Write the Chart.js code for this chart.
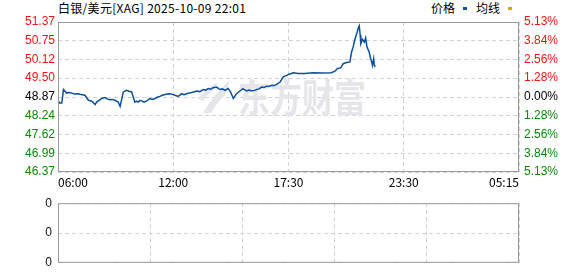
<!DOCTYPE html>
<html>
<head>
<meta charset="utf-8">
<script src="https://cdn.jsdelivr.net/npm/chart.js@4/dist/chart.umd.min.js"></script>
<style>
  body { margin: 0; background: #fff; width: 578px; height: 276px; overflow: hidden; position: relative;
         font-family: "Noto Sans CJK SC", "Liberation Sans", sans-serif; }
  #title { position: absolute; left: 58px; top: 0px; font-size: 12px; line-height: 16px; color: #000; white-space: nowrap; letter-spacing: 0.3px; }
  #legend { position: absolute; left: 431px; top: 0px; font-size: 12px; line-height: 16px; color: #000; white-space: nowrap; }
  #legend i { display: inline-block; width: 4px; height: 3px; margin: 0 9px 2px 8px; vertical-align: middle; }
  #priceCanvas { position: absolute; left: 0; top: 0; }
  #volCanvas { position: absolute; left: 0; top: 190px; }
</style>
</head>
<body>
<div id="title">白银/美元[XAG] 2025-10-09 22:01</div>
<div id="legend">价格<i style="background:#0c4f9e"></i>均线<i style="background:#e0a020"></i></div>
<canvas id="priceCanvas" width="578" height="192"></canvas>
<canvas id="volCanvas" width="578" height="86"></canvas>
<script>
// tick labels
const timeTicks = ["06:00", "12:00", "17:30", "23:30", "05:15"];
const priceTicks = [51.37, 50.75, 50.12, 49.50, 48.87, 48.24, 47.62, 46.99, 46.37];
const pctTicks = ["5.13%", "3.84%", "2.56%", "1.28%", "0.00%", "1.28%", "2.56%", "3.84%", "5.13%"];
const volTicks = ["0", "0", "0", "0", "0"];
const prevClose = 48.87;

// intraday price
const times = [
    "06:00", "06:05", "06:12", "06:17", "06:27", "06:35", "06:43", "06:52", "07:03", "07:12",
    "07:24", "07:35", "07:45", "07:56", "08:01", "08:11", "08:19", "08:27", "08:35", "08:42",
    "08:50", "08:58", "09:08", "09:14", "09:24", "09:34", "09:42", "09:50", "10:00", "10:05",
    "10:11", "10:16", "10:21", "10:29", "10:37", "10:47", "10:55", "11:03", "11:10", "11:18",
    "11:26", "11:34", "11:42", "11:49", "12:00", "12:05", "12:14", "12:24", "12:31", "12:38",
    "12:46", "12:53", "13:07", "13:16", "13:26", "13:33", "13:40", "13:47", "13:54", "14:04",
    "14:09", "14:14", "14:21", "14:28", "14:37", "14:44", "14:52", "15:01", "15:11", "15:19",
    "15:30", "15:37", "15:44", "15:52", "15:59", "16:06", "16:13", "16:20", "16:27", "16:34",
    "16:42", "16:49", "16:56", "17:06", "17:15", "17:25", "17:32", "17:45", "18:00", "18:21",
    "18:47", "19:13", "19:44", "19:55", "20:03", "20:13", "20:21", "20:31", "20:42", "20:47",
    "20:52", "20:58", "21:03", "21:08", "21:11", "21:14", "21:16", "21:21", "21:27", "21:31",
    "21:35", "21:42", "21:46", "21:50", "21:52", "21:56", "21:58", "22:01"
];
const prices = [
    48.76, 48.67, 48.67, 49.12, 49.00, 49.02, 49.00, 48.97, 48.98, 48.95,
    48.93, 48.76, 48.74, 48.62, 48.70, 48.78, 48.83, 48.85, 48.80, 48.78,
    48.79, 48.76, 48.70, 48.56, 49.04, 49.09, 49.06, 49.04, 48.70, 48.73,
    48.70, 48.76, 48.74, 48.70, 48.74, 48.82, 48.79, 48.82, 48.86, 48.89,
    48.93, 48.95, 48.97, 48.98, 48.95, 48.93, 48.89, 48.98, 48.95, 48.98,
    49.00, 49.02, 49.07, 49.05, 49.12, 49.10, 49.15, 49.13, 49.18, 49.20,
    49.16, 49.12, 49.14, 49.09, 49.15, 49.04, 48.82, 48.98, 49.07, 49.15,
    49.07, 49.10, 49.07, 49.09, 49.12, 49.14, 49.20, 49.19, 49.23, 49.22,
    49.26, 49.25, 49.29, 49.37, 49.54, 49.59, 49.63, 49.68, 49.65, 49.65,
    49.68, 49.67, 49.68, 49.73, 49.82, 49.84, 49.98, 50.02, 50.04, 50.37,
    50.54, 50.82, 50.98, 51.17, 51.24, 50.93, 50.65, 50.79, 50.70, 50.84,
    50.54, 50.37, 50.17, 50.04, 49.93, 50.15, 49.93, 49.87
];
const volumeValues = [];

// time -> axis position (each labelled tick is one unit apart)
const toMin = s => {
    const [h, m] = s.split(":").map(Number);
    let v = h * 60 + m;
    if (v < 360) v += 1440;
    return v;
};
const tickMins = timeTicks.map(toMin);
const toPos = s => {
    const v = toMin(s);
    for (let i = 0; i < tickMins.length - 1; i++) {
        if (v <= tickMins[i + 1]) return i + (v - tickMins[i]) / (tickMins[i + 1] - tickMins[i]);
    }
    return tickMins.length - 1;
};

const RED = "#f51414";
const GREEN = "#0a8a0a";
const tickColor = i => priceTicks[i] > prevClose ? RED : (priceTicks[i] < prevClose ? GREEN : "#000");
const labelFont = { family: "Liberation Sans", size: 12 };
const gridColor = "#d2d2d2";

// grey frame around the plot area
const framePlugin = {
    id: "frame",
    afterDatasetsDraw(chart) {
        const a = chart.chartArea, c = chart.ctx;
        c.save();
        c.strokeStyle = "#999";
        c.lineWidth = 1;
        c.strokeRect(a.left + 0.5, a.top + 0.5, a.right - a.left - 1, a.bottom - a.top - 1);
        c.restore();
    }
};

// faint watermark (logo mark + 东方财富)
const watermarkPlugin = {
    id: "watermark",
    beforeDatasetsDraw(chart) {
        const c = chart.ctx;
        c.save();
        c.fillStyle = "#e6e6ea";
        // swoosh mark
        c.beginPath();
        c.moveTo(203, 113);
        c.quadraticCurveTo(214, 94, 230, 80);
        c.lineTo(226, 94);
        c.quadraticCurveTo(216, 104, 211, 113);
        c.closePath();
        c.fill();
        c.beginPath();
        c.moveTo(198, 99);
        c.quadraticCurveTo(206, 88, 218, 82);
        c.lineTo(214, 90);
        c.quadraticCurveTo(206, 95, 203, 101);
        c.closePath();
        c.fill();
        // text, slightly stretched vertically
        c.translate(238, 97);
        c.scale(1, 1.2);
        c.font = "bold 32px 'Noto Sans CJK SC'";
        c.textAlign = "left";
        c.textBaseline = "middle";
        c.fillText("东方财富", 0, 0);
        c.restore();
    }
};

const xScale = (showTicks) => ({
    type: "linear",
    min: 0,
    max: timeTicks.length - 1,
    afterBuildTicks: s => { s.ticks = timeTicks.map((_, i) => ({ value: i })); },
    ticks: {
        display: showTicks,
        callback: (v, i) => timeTicks[i],
        align: "inner",
        autoSkip: false,
        maxRotation: 0,
        color: "#000",
        padding: 3,
        font: { family: "Noto Sans CJK SC", size: 12 }
    },
    grid: { color: gridColor, drawTicks: false },
    border: { display: false, dash: [4, 3] },
    afterFit: s => { s.height = showTicks ? 20 : 0; }
});

new Chart(document.getElementById("priceCanvas"), {
    type: "line",
    data: {
        datasets: [{
            label: "价格",
            data: times.map((t, i) => ({ x: toPos(t), y: prices[i] })),
            borderColor: "#0c4f9e",
            borderWidth: 1.5,
            pointRadius: 0,
            tension: 0
        }]
    },
    options: {
        responsive: false,
        animation: false,
        layout: { padding: { top: 22, left: 0, right: 0, bottom: 0 } },
        plugins: { legend: { display: false }, tooltip: { enabled: false } },
        scales: {
            x: xScale(true),
            y: {
                position: "left",
                min: priceTicks[priceTicks.length - 1],
                max: priceTicks[0],
                afterBuildTicks: s => { s.ticks = priceTicks.map(v => ({ value: v })); },
                ticks: {
                    callback: (v, i) => priceTicks[i].toFixed(2),
                    color: ctx => tickColor(ctx.index),
                    padding: 3,
                    font: labelFont
                },
                grid: { color: gridColor, drawTicks: false },
                border: { display: false, dash: [4, 3] },
                afterFit: s => { s.width = 58; }
            },
            yr: {
                position: "right",
                min: priceTicks[priceTicks.length - 1],
                max: priceTicks[0],
                afterBuildTicks: s => { s.ticks = priceTicks.map(v => ({ value: v })); },
                ticks: {
                    callback: (v, i) => pctTicks[i],
                    color: ctx => tickColor(ctx.index),
                    padding: 5,
                    font: labelFont
                },
                grid: { display: false, drawTicks: false },
                border: { display: false },
                afterFit: s => { s.width = 59; }
            }
        }
    },
    plugins: [watermarkPlugin, framePlugin]
});

new Chart(document.getElementById("volCanvas"), {
    type: "bar",
    data: {
        datasets: [{ label: "成交量", data: volumeValues, backgroundColor: "#0c4f9e" }]
    },
    options: {
        responsive: false,
        animation: false,
        layout: { padding: { top: 6, left: 0, right: 0, bottom: 6 } },
        plugins: { legend: { display: false }, tooltip: { enabled: false } },
        scales: {
            x: xScale(false),
            y: {
                position: "left",
                min: 0,
                max: volTicks.length - 1,
                afterBuildTicks: s => { s.ticks = volTicks.map((_, i) => ({ value: i })); },
                ticks: {
                    callback: (v, i) => volTicks[i],
                    color: "#111",
                    padding: 6,
                    font: labelFont
                },
                grid: { color: gridColor, drawTicks: false },
                border: { display: false, dash: [4, 3] },
                afterFit: s => { s.width = 58; }
            },
            yr: {
                position: "right",
                display: true,
                min: 0,
                max: volTicks.length - 1,
                ticks: { display: false },
                grid: { display: false },
                border: { display: false },
                afterFit: s => { s.width = 59; }
            }
        }
    },
    plugins: [framePlugin]
});
</script>
</body>
</html>
